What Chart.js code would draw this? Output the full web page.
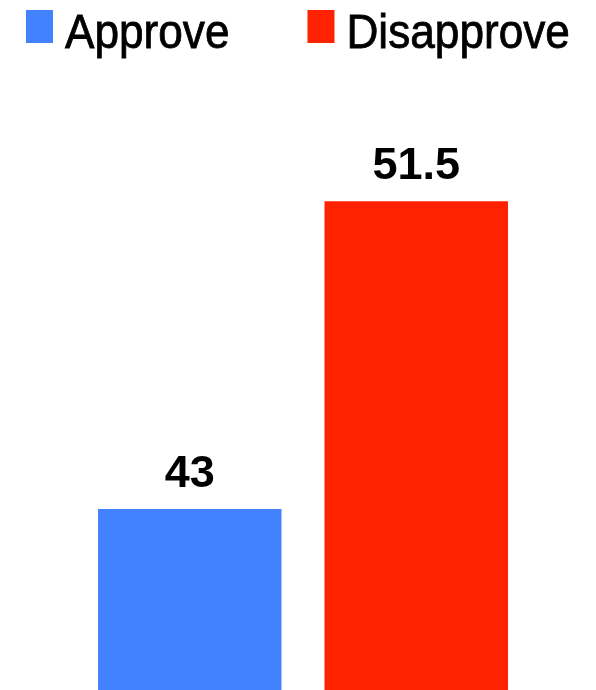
<!DOCTYPE html>
<html>
<head>
<meta charset="utf-8">
<script src="https://cdn.jsdelivr.net/npm/chart.js@4"></script>
<style>
  html, body { margin: 0; padding: 0; background: #fff; }
  #wrap { width: 596px; height: 690px; }
</style>
</head>
<body>
<div id="wrap"><canvas id="chart"></canvas></div>
<script>
  const seriesNames = ["Approve", "Disapprove"];
  const seriesValues = [43, 51.5];
  const seriesColors = ["#4282FF", "#FF2200"];
  const axisMin = 38;
  const axisMax = 54.3;

  // legend + value labels drawn on the canvas
  const textPlugin = {
    id: "textPlugin",
    afterDraw(chart) {
      let ctx = chart.ctx;
      ctx.save();
      // legend (text squeezed a bit, the original font is narrow)
      let squeeze = 0.92;
      let x = 26;
      ctx.font = "48px 'Liberation Sans', Arial, sans-serif";
      ctx.textBaseline = "alphabetic";
      ctx.textAlign = "left";
      ctx.lineWidth = 0.8;
      chart.data.datasets.forEach(function(ds) {
        ctx.fillStyle = ds.backgroundColor;
        ctx.fillRect(x, 10, 27, 33);
        let tx = x + 39;
        let w = ctx.measureText(ds.label).width * squeeze;
        ctx.save();
        ctx.translate(tx, 48);
        ctx.scale(squeeze, 1);
        ctx.fillStyle = "#000";
        ctx.strokeStyle = "#000";
        ctx.fillText(ds.label, 0, 0);
        ctx.strokeText(ds.label, 0, 0);
        ctx.restore();
        x = tx + w + 78;
      });
      // value labels
      ctx.font = "bold 45px 'Liberation Sans', Arial, sans-serif";
      ctx.textAlign = "center";
      ctx.fillStyle = "#000";
      chart.data.datasets.forEach(function(ds, i) {
        let bar = chart.getDatasetMeta(i).data[0];
        ctx.fillText(String(ds.data[0]), bar.x, bar.y - 22);
      });
      ctx.restore();
    }
  };

  let datasets = [];
  for (let i = 0; i < seriesNames.length; i++) {
    datasets.push({
      label: seriesNames[i],
      data: [seriesValues[i]],
      backgroundColor: seriesColors[i],
      borderWidth: 0,
      categoryPercentage: 0.773,
      barPercentage: 0.81
    });
  }

  new Chart(document.getElementById("chart"), {
    type: "bar",
    data: { labels: [""], datasets: datasets },
    options: {
      responsive: true,
      maintainAspectRatio: false,
      animation: false,
      layout: { padding: { top: 100, left: 10, right: 0, bottom: 0 } },
      plugins: { legend: { display: false }, tooltip: { enabled: false } },
      scales: {
        x: { display: false },
        y: { display: false, min: axisMin, max: axisMax }
      }
    },
    plugins: [textPlugin]
  });
</script>
</body>
</html>
